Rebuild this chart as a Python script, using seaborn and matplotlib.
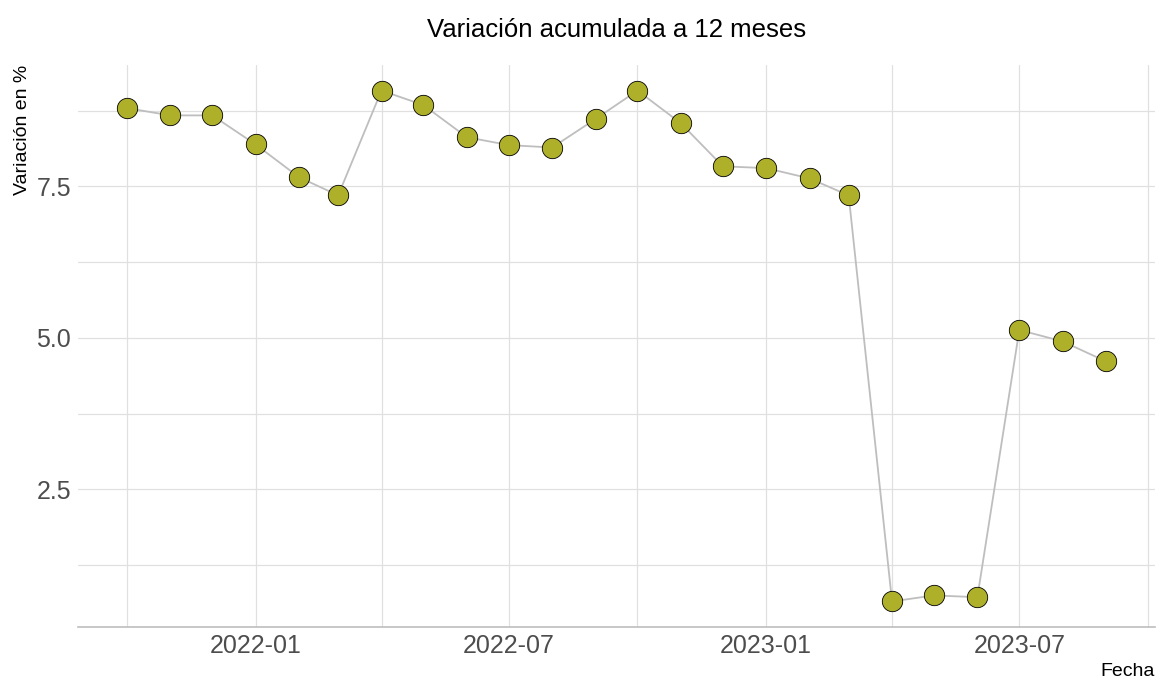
import numpy as np
import pandas as pd
import matplotlib
matplotlib.use("Agg")
import matplotlib.pyplot as plt
import matplotlib.dates as mdates
from matplotlib.ticker import MultipleLocator
import seaborn as sns

fechas = pd.date_range("2021-10-01", "2023-09-01", freq="MS")
variacion = [8.79, 8.67, 8.67, 8.19, 7.65, 7.35, 9.08, 8.84, 8.31, 8.18, 8.14, 8.61,
             9.08, 8.54, 7.83, 7.80, 7.63, 7.35, 0.65, 0.75, 0.72, 5.13, 4.94, 4.61]
x_ticks = ["2022-01-01", "2022-07-01", "2023-01-01", "2023-07-01"]
x_minor = ["2021-10-01", "2022-04-01", "2022-10-01", "2023-04-01", "2023-10-01"]

df = pd.DataFrame({"Fecha": fechas, "Variacion": variacion})

sns.set_style("white")
plt.rcParams["font.family"] = ["Liberation Sans", "DejaVu Sans"]

fig = plt.figure(figsize=(11.58, 6.8), dpi=100)
ax = fig.add_axes([78/1158, 1-627/680, (1155-78)/1158, (627-65)/680])

sns.lineplot(data=df, x="Fecha", y="Variacion", ax=ax, color="#BEBEBE", lw=1.3, zorder=2)
sns.scatterplot(data=df, x="Fecha", y="Variacion", ax=ax, color="#AFB02A",
                edgecolor="black", linewidth=0.6, s=215, zorder=3)

span = fechas[-1] - fechas[0]
ax.set_xlim(fechas[0] - span * 0.05, fechas[-1] + span * 0.05)
ymin, ymax = min(variacion), max(variacion)
yr = ymax - ymin
ax.set_ylim(ymin - 0.05 * yr, ymax + 0.05 * yr)

ax.set_xticks(pd.to_datetime(x_ticks))
ax.set_xticks(pd.to_datetime(x_minor), minor=True)
ax.xaxis.set_major_formatter(mdates.DateFormatter("%Y-%m"))
ax.yaxis.set_major_locator(MultipleLocator(2.5))
ax.yaxis.set_minor_locator(MultipleLocator(1.25))
ax.yaxis.set_major_formatter(matplotlib.ticker.FormatStrFormatter("%.1f"))

ax.grid(True, which="both", color="#E0E0E0", lw=0.9, zorder=0)
ax.set_axisbelow(True)
for s in ["top", "right", "left"]:
    ax.spines[s].set_visible(False)
ax.spines["bottom"].set_color("#BEBEBE")
ax.spines["bottom"].set_linewidth(1.2)

ax.tick_params(axis="both", which="both", length=0, labelsize=18, labelcolor="#4D4D4D", pad=5)

ax.set_xlabel("Fecha", fontsize=14, color="black", loc="right", labelpad=4)
ax.set_ylabel("Variación en %", fontsize=14, color="black", loc="top", labelpad=4)
ax.set_title("Variación acumulada a 12 meses", fontsize=18.5, color="black", pad=20)

fig.savefig("out.png", dpi=100)
